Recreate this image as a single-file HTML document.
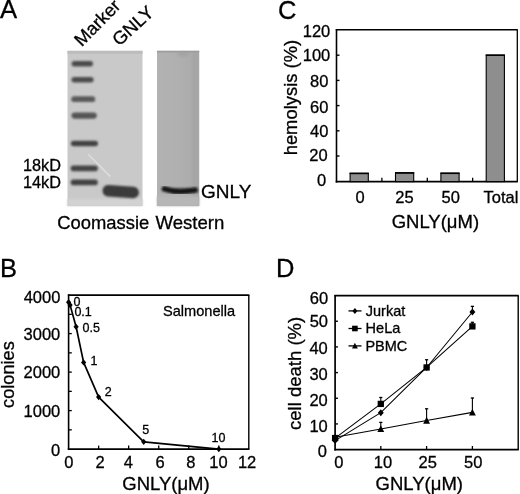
<!DOCTYPE html>
<html><head><meta charset="utf-8">
<style>
html,body{margin:0;padding:0;background:#fff;width:520px;height:494px;overflow:hidden}
svg{display:block;filter:grayscale(1) blur(0.35px)}
text{stroke:#000;stroke-width:0.3px}
text{font-family:"Liberation Sans", sans-serif;fill:#000}
</style></head><body>
<svg width="520" height="494" viewBox="0 0 520 494">
<defs>
<clipPath id="wclip"><rect x="157" y="50.8" width="42.2" height="155.2"/></clipPath>
<linearGradient id="wg" x1="0" y1="0" x2="1" y2="0"><stop offset="0" stop-color="#b2b2b2"/><stop offset="0.5" stop-color="#b0b0b0"/><stop offset="1" stop-color="#a9a9a9"/></linearGradient>
<filter id="b0" x="-20%" y="-20%" width="140%" height="140%"><feGaussianBlur stdDeviation="0.5"/></filter>
<filter id="b1" x="-50%" y="-100%" width="200%" height="300%"><feGaussianBlur stdDeviation="1.1"/></filter>
<filter id="b2" x="-50%" y="-100%" width="200%" height="300%"><feGaussianBlur stdDeviation="0.8"/></filter>
</defs>
<g id="all">
<text x="0" y="18.2" font-size="25.7">A</text>
<text transform="translate(81.8,47.3) rotate(-45.5)" font-size="18.2">Marker</text>
<text transform="translate(119.2,46.8) rotate(-42.5)" font-size="18.4">GNLY</text>

<rect x="67.5" y="50.8" width="75" height="155.2" fill="#c9c9c9"/>
<rect x="67.5" y="50.8" width="75" height="3" fill="#bcbcbc"/>
<rect x="67.5" y="199" width="75" height="7" fill="#d2d2d2" filter="url(#b1)"/>
<g filter="url(#b1)">
  <rect x="71.6" y="61.10" width="21.4" height="5.4" rx="2.70" fill="#4c4c4c"/>
  <rect x="71.5" y="77.10" width="22.1" height="5.4" rx="2.70" fill="#4e4e4e"/>
  <rect x="71.3" y="96.30" width="23.9" height="5.8" rx="2.90" fill="#5a5a5a"/>
  <rect x="71.5" y="112.50" width="25.3" height="6.2" rx="3.10" fill="#555555"/>
  <rect x="70.9" y="140.80" width="27.1" height="5.4" rx="2.70" fill="#424242"/>
  <rect x="70.7" y="165.60" width="27.1" height="5.6" rx="2.80" fill="#444444"/>
  <rect x="70.7" y="179.60" width="27.1" height="5.6" rx="2.80" fill="#424242"/>
</g>
<g filter="url(#b1)">
  <rect x="102.5" y="185.8" width="36.5" height="11.6" rx="5.8" fill="#3a3a3a" transform="rotate(4 120.7 191.6)"/>
</g>
<line x1="88.3" y1="154.4" x2="110.3" y2="176.5" stroke="#e2e2e2" stroke-width="1.3" filter="url(#b0)"/>
<rect x="157" y="50.8" width="42.2" height="155.2" fill="url(#wg)"/>
<rect x="192" y="52" width="6" height="150" fill="#a2a2a2" opacity="0.5" filter="url(#b1)"/>
<rect x="157" y="50.8" width="42.2" height="1.6" fill="#9c9c9c"/>
<g clip-path="url(#wclip)"><ellipse cx="183" cy="54" rx="6" ry="3" fill="#9e9e9e" opacity="0.6" filter="url(#b1)"/></g>
<rect x="157" y="196" width="42.2" height="10" fill="#b6b6b6" filter="url(#b1)"/>
<path d="M164.4,188.9 Q172,191.6 181,191.4 T195.2,190.1" fill="none" stroke="#181818" stroke-width="5.6" stroke-linecap="round" filter="url(#b2)"/>

<text x="23.00" y="171.40" font-size="16.3">18kD</text>
<text x="23.00" y="187.90" font-size="16.3">14kD</text>
<text x="201.10" y="197.60" font-size="19.0">GNLY</text>
<text x="57.30" y="228.90" font-size="18.4">Coomassie</text>
<text x="155.50" y="228.90" font-size="18.6">Western</text>
<text x="277.90" y="19.40" font-size="25.5">C</text>
<line x1="335.75" y1="29.80" x2="517.80" y2="29.80" stroke="#000" stroke-width="1.6"/>
<line x1="517.30" y1="29.80" x2="517.30" y2="181.80" stroke="#000" stroke-width="1.3"/>
<line x1="336.50" y1="29.10" x2="336.50" y2="182.60" stroke="#000" stroke-width="1.6"/>
<line x1="335.70" y1="181.60" x2="517.80" y2="181.60" stroke="#000" stroke-width="1.8"/>
<line x1="336.50" y1="156.00" x2="339.50" y2="156.00" stroke="#000" stroke-width="1.4"/>
<line x1="336.50" y1="130.80" x2="339.50" y2="130.80" stroke="#000" stroke-width="1.4"/>
<line x1="336.50" y1="105.60" x2="339.50" y2="105.60" stroke="#000" stroke-width="1.4"/>
<line x1="336.50" y1="80.40" x2="339.50" y2="80.40" stroke="#000" stroke-width="1.4"/>
<line x1="336.50" y1="55.20" x2="339.50" y2="55.20" stroke="#000" stroke-width="1.4"/>
<line x1="381.90" y1="177.80" x2="381.90" y2="181.60" stroke="#000" stroke-width="1.3"/>
<line x1="427.30" y1="177.80" x2="427.30" y2="181.60" stroke="#000" stroke-width="1.3"/>
<line x1="472.65" y1="177.80" x2="472.65" y2="181.60" stroke="#000" stroke-width="1.3"/>
<rect x="350.10" y="173.39" width="18.2" height="8.21" fill="#8e8e8e" stroke="#000" stroke-width="1.1"/>
<line x1="349.60" y1="173.39" x2="368.80" y2="173.39" stroke="#000" stroke-width="1.6"/>
<rect x="395.50" y="172.88" width="18.2" height="8.72" fill="#8e8e8e" stroke="#000" stroke-width="1.1"/>
<line x1="395.00" y1="172.88" x2="414.20" y2="172.88" stroke="#000" stroke-width="1.6"/>
<rect x="440.90" y="173.26" width="18.2" height="8.34" fill="#8e8e8e" stroke="#000" stroke-width="1.1"/>
<line x1="440.40" y1="173.26" x2="459.60" y2="173.26" stroke="#000" stroke-width="1.6"/>
<rect x="486.20" y="55.20" width="18.2" height="126.40" fill="#8e8e8e" stroke="#000" stroke-width="1.1"/>
<line x1="485.70" y1="55.20" x2="504.90" y2="55.20" stroke="#000" stroke-width="1.6"/>
<text x="330.30" y="36.66" font-size="16.5" text-anchor="end">120</text>
<text x="330.30" y="60.76" font-size="16.5" text-anchor="end">100</text>
<text x="328.40" y="86.86" font-size="16.5" text-anchor="end">80</text>
<text x="328.40" y="112.66" font-size="16.5" text-anchor="end">60</text>
<text x="328.40" y="136.96" font-size="16.5" text-anchor="end">40</text>
<text x="327.60" y="160.66" font-size="16.5" text-anchor="end">20</text>
<text x="326.20" y="185.96" font-size="16.5" text-anchor="end">0</text>
<text x="360.00" y="202.76" font-size="16.5" text-anchor="middle">0</text>
<text x="404.40" y="202.76" font-size="16.5" text-anchor="middle">25</text>
<text x="450.80" y="202.76" font-size="16.5" text-anchor="middle">50</text>
<text x="500.90" y="202.76" font-size="16.5" text-anchor="middle">Total</text>
<text x="435.40" y="227.80" font-size="18.5" text-anchor="middle">GNLY(μM)</text>
<text transform="translate(297.1,97.6) rotate(-90)" font-size="18.4" text-anchor="middle">hemolysis (%)</text>
<text x="0.00" y="277.20" font-size="25.5">B</text>
<line x1="67.85" y1="295.10" x2="249.30" y2="295.10" stroke="#000" stroke-width="1.6"/>
<line x1="248.80" y1="295.10" x2="248.80" y2="449.40" stroke="#000" stroke-width="1.4"/>
<line x1="68.60" y1="294.40" x2="68.60" y2="449.90" stroke="#000" stroke-width="1.6"/>
<line x1="67.80" y1="449.10" x2="249.30" y2="449.10" stroke="#000" stroke-width="1.8"/>
<line x1="68.60" y1="429.85" x2="71.80" y2="429.85" stroke="#000" stroke-width="1.3"/>
<line x1="68.60" y1="410.60" x2="71.80" y2="410.60" stroke="#000" stroke-width="1.3"/>
<line x1="68.60" y1="391.35" x2="71.80" y2="391.35" stroke="#000" stroke-width="1.3"/>
<line x1="68.60" y1="372.10" x2="71.80" y2="372.10" stroke="#000" stroke-width="1.3"/>
<line x1="68.60" y1="352.85" x2="71.80" y2="352.85" stroke="#000" stroke-width="1.3"/>
<line x1="68.60" y1="333.60" x2="71.80" y2="333.60" stroke="#000" stroke-width="1.3"/>
<line x1="68.60" y1="314.35" x2="71.80" y2="314.35" stroke="#000" stroke-width="1.3"/>
<line x1="98.64" y1="445.60" x2="98.64" y2="449.10" stroke="#000" stroke-width="1.3"/>
<line x1="128.68" y1="445.60" x2="128.68" y2="449.10" stroke="#000" stroke-width="1.3"/>
<line x1="158.72" y1="445.60" x2="158.72" y2="449.10" stroke="#000" stroke-width="1.3"/>
<line x1="188.76" y1="445.60" x2="188.76" y2="449.10" stroke="#000" stroke-width="1.3"/>
<line x1="218.80" y1="445.60" x2="218.80" y2="449.10" stroke="#000" stroke-width="1.3"/>
<polyline points="68.60,302.18 70.10,305.11 76.11,326.79 83.62,362.40 98.64,397.09 143.70,441.79 218.80,449.10" fill="none" stroke="#000" stroke-width="1.7" stroke-linejoin="round"/>
<path d="M68.60,299.08 L71.20,302.18 L68.60,305.28 L66.00,302.18Z" fill="#000"/>
<path d="M70.10,302.01 L72.70,305.11 L70.10,308.21 L67.50,305.11Z" fill="#000"/>
<path d="M76.11,323.69 L78.71,326.79 L76.11,329.89 L73.51,326.79Z" fill="#000"/>
<path d="M83.62,359.30 L86.22,362.40 L83.62,365.50 L81.02,362.40Z" fill="#000"/>
<path d="M98.64,393.99 L101.24,397.09 L98.64,400.19 L96.04,397.09Z" fill="#000"/>
<path d="M143.70,438.69 L146.30,441.79 L143.70,444.89 L141.10,441.79Z" fill="#000"/>
<path d="M218.80,446.00 L221.40,449.10 L218.80,452.20 L216.20,449.10Z" fill="#000"/>
<text x="73.40" y="305.90" font-size="12.5">0</text>
<text x="74.40" y="316.20" font-size="12.5">0.1</text>
<text x="82.50" y="331.90" font-size="12.5">0.5</text>
<text x="90.60" y="365.30" font-size="12.5">1</text>
<text x="104.70" y="395.70" font-size="12.5">2</text>
<text x="142.30" y="433.90" font-size="12.5">5</text>
<text x="211.50" y="441.60" font-size="12.5">10</text>
<text x="163.00" y="315.90" font-size="14.6">Salmonella</text>
<text x="60.40" y="303.36" font-size="16.5" text-anchor="end">4000</text>
<text x="60.30" y="339.56" font-size="16.5" text-anchor="end">3000</text>
<text x="60.30" y="378.26" font-size="16.5" text-anchor="end">2000</text>
<text x="60.30" y="417.46" font-size="16.5" text-anchor="end">1000</text>
<text x="60.30" y="455.86" font-size="16.5" text-anchor="end">0</text>
<text x="68.90" y="468.46" font-size="16.5" text-anchor="middle">0</text>
<text x="100.00" y="468.46" font-size="16.5" text-anchor="middle">2</text>
<text x="128.40" y="468.46" font-size="16.5" text-anchor="middle">4</text>
<text x="160.20" y="468.46" font-size="16.5" text-anchor="middle">6</text>
<text x="190.80" y="468.46" font-size="16.5" text-anchor="middle">8</text>
<text x="218.50" y="468.46" font-size="16.5" text-anchor="middle">10</text>
<text x="247.10" y="468.46" font-size="16.5" text-anchor="middle">12</text>
<text x="166.00" y="489.60" font-size="18.5" text-anchor="middle">GNLY(μM)</text>
<text transform="translate(14.2,374.6) rotate(-90)" font-size="18.2" text-anchor="middle">colonies</text>
<text x="275.90" y="277.30" font-size="25.5">D</text>
<line x1="334.35" y1="295.60" x2="518.70" y2="295.60" stroke="#000" stroke-width="1.6"/>
<line x1="518.20" y1="295.60" x2="518.20" y2="449.90" stroke="#000" stroke-width="1.4"/>
<line x1="335.10" y1="294.90" x2="335.10" y2="450.40" stroke="#000" stroke-width="1.7"/>
<line x1="334.30" y1="449.60" x2="518.70" y2="449.60" stroke="#000" stroke-width="1.8"/>
<line x1="335.10" y1="423.93" x2="337.90" y2="423.93" stroke="#000" stroke-width="1.4"/>
<line x1="335.10" y1="398.26" x2="337.90" y2="398.26" stroke="#000" stroke-width="1.4"/>
<line x1="335.10" y1="372.59" x2="337.90" y2="372.59" stroke="#000" stroke-width="1.4"/>
<line x1="335.10" y1="346.92" x2="337.90" y2="346.92" stroke="#000" stroke-width="1.4"/>
<line x1="335.10" y1="321.25" x2="337.90" y2="321.25" stroke="#000" stroke-width="1.4"/>
<line x1="380.80" y1="446.00" x2="380.80" y2="449.60" stroke="#000" stroke-width="1.3"/>
<line x1="426.60" y1="446.00" x2="426.60" y2="449.60" stroke="#000" stroke-width="1.3"/>
<line x1="472.40" y1="446.00" x2="472.40" y2="449.60" stroke="#000" stroke-width="1.3"/>
<polyline points="335.10,440.62 380.80,412.64 426.60,367.46 472.40,312.01" fill="none" stroke="#000" stroke-width="1.05"/>
<polyline points="335.10,438.05 380.80,403.91 426.60,367.46 472.40,326.38" fill="none" stroke="#000" stroke-width="1.05"/>
<polyline points="335.10,437.28 380.80,429.06 426.60,420.59 472.40,412.38" fill="none" stroke="#000" stroke-width="1.05"/>
<line x1="380.80" y1="403.91" x2="380.80" y2="397.49" stroke="#000" stroke-width="1.1"/>
<line x1="379.20" y1="397.49" x2="382.40" y2="397.49" stroke="#000" stroke-width="1.3"/>
<line x1="380.80" y1="429.06" x2="380.80" y2="422.39" stroke="#000" stroke-width="1.1"/>
<line x1="379.20" y1="422.39" x2="382.40" y2="422.39" stroke="#000" stroke-width="1.3"/>
<line x1="426.60" y1="367.46" x2="426.60" y2="359.75" stroke="#000" stroke-width="1.1"/>
<line x1="425.00" y1="359.75" x2="428.20" y2="359.75" stroke="#000" stroke-width="1.3"/>
<line x1="426.60" y1="420.59" x2="426.60" y2="408.78" stroke="#000" stroke-width="1.1"/>
<line x1="425.00" y1="408.78" x2="428.20" y2="408.78" stroke="#000" stroke-width="1.3"/>
<line x1="472.40" y1="312.01" x2="472.40" y2="306.36" stroke="#000" stroke-width="1.1"/>
<line x1="470.80" y1="306.36" x2="474.00" y2="306.36" stroke="#000" stroke-width="1.3"/>
<line x1="472.40" y1="326.38" x2="472.40" y2="322.28" stroke="#000" stroke-width="1.1"/>
<line x1="470.80" y1="322.28" x2="474.00" y2="322.28" stroke="#000" stroke-width="1.3"/>
<line x1="472.40" y1="412.38" x2="472.40" y2="398.00" stroke="#000" stroke-width="1.1"/>
<line x1="470.80" y1="398.00" x2="474.00" y2="398.00" stroke="#000" stroke-width="1.3"/>
<path d="M335.10,433.54 L338.50,440.34 L331.70,440.34Z" fill="#000"/>
<path d="M380.80,425.32 L384.20,432.12 L377.40,432.12Z" fill="#000"/>
<path d="M426.60,416.85 L430.00,423.65 L423.20,423.65Z" fill="#000"/>
<path d="M472.40,408.64 L475.80,415.44 L469.00,415.44Z" fill="#000"/>
<path d="M335.10,437.12 L338.07,440.62 L335.10,444.12 L332.13,440.62Z" fill="#000"/>
<path d="M380.80,409.14 L383.77,412.64 L380.80,416.14 L377.83,412.64Z" fill="#000"/>
<path d="M426.60,363.96 L429.57,367.46 L426.60,370.96 L423.63,367.46Z" fill="#000"/>
<path d="M472.40,308.51 L475.37,312.01 L472.40,315.51 L469.43,312.01Z" fill="#000"/>
<rect x="331.95" y="434.90" width="6.3" height="6.3" fill="#000"/>
<rect x="377.65" y="400.76" width="6.3" height="6.3" fill="#000"/>
<rect x="423.45" y="364.31" width="6.3" height="6.3" fill="#000"/>
<rect x="469.25" y="323.23" width="6.3" height="6.3" fill="#000"/>
<line x1="348.50" y1="310.90" x2="361.50" y2="310.90" stroke="#000" stroke-width="1.3"/>
<line x1="348.50" y1="328.50" x2="361.50" y2="328.50" stroke="#000" stroke-width="1.3"/>
<line x1="348.50" y1="345.90" x2="361.50" y2="345.90" stroke="#000" stroke-width="1.3"/>
<path d="M354.90,307.90 L357.42,310.90 L354.90,313.90 L352.38,310.90Z" fill="#000"/>
<rect x="352.10" y="325.70" width="5.6" height="5.6" fill="#000"/>
<path d="M354.90,342.71 L357.80,348.51 L352.00,348.51Z" fill="#000"/>
<text x="365.80" y="316.30" font-size="14.5">Jurkat</text>
<text x="365.60" y="332.60" font-size="14.5">HeLa</text>
<text x="365.40" y="350.60" font-size="14.5">PBMC</text>
<text x="328.20" y="303.56" font-size="16.5" text-anchor="end">60</text>
<text x="328.00" y="326.86" font-size="16.5" text-anchor="end">50</text>
<text x="327.80" y="353.76" font-size="16.5" text-anchor="end">40</text>
<text x="327.80" y="379.66" font-size="16.5" text-anchor="end">30</text>
<text x="327.80" y="405.66" font-size="16.5" text-anchor="end">20</text>
<text x="327.80" y="431.66" font-size="16.5" text-anchor="end">10</text>
<text x="327.00" y="457.26" font-size="16.5" text-anchor="end">0</text>
<text x="338.80" y="467.66" font-size="16.5" text-anchor="middle">0</text>
<text x="382.90" y="467.66" font-size="16.5" text-anchor="middle">10</text>
<text x="427.80" y="467.66" font-size="16.5" text-anchor="middle">25</text>
<text x="473.20" y="467.66" font-size="16.5" text-anchor="middle">50</text>
<text x="419.30" y="489.60" font-size="18.5" text-anchor="middle">GNLY(μM)</text>
<text transform="translate(300.8,373.4) rotate(-90)" font-size="18.5" text-anchor="middle">cell death (%)</text>
</g>
</svg>
</body></html>
